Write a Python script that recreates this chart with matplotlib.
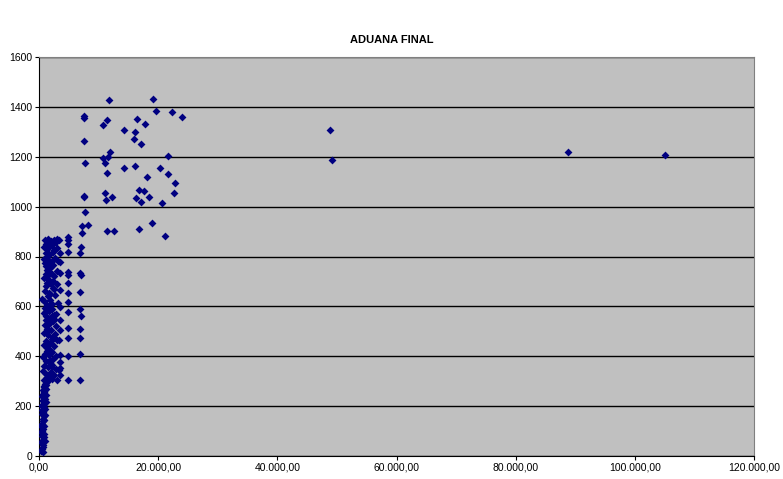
import matplotlib.pyplot as plt
from matplotlib.ticker import FuncFormatter

# --- data (x: valor, y: días) ---
base_x = [350, 500, 700, 400, 650, 550, 800, 450, 700, 900, 500, 750, 600, 850, 500,
          700, 950, 550, 800, 650, 1000, 500, 750, 900, 600, 1100, 800, 1200, 950, 1300,
          650, 850, 550, 900, 450, 700, 1100, 350, 1000, 600, 800, 1050, 500, 900, 1400,
          400, 750, 1150, 600, 850]
base_y = [20, 30, 45, 55, 65, 80, 90, 100, 110, 120, 130, 140, 150, 160, 170,
          180, 190, 200, 210, 220, 230, 240, 250, 255, 265, 270, 280, 285, 290, 295,
          35, 75, 115, 145, 185, 225, 245, 95, 60, 15, 195, 165, 205, 275, 300,
          125, 235, 215, 175, 260]

cluster_x = [1000, 1500, 2000, 2500, 1200, 1800, 2800, 3100,
             900, 1400, 2100, 2600, 1100, 1700, 2300, 3000, 1300,
             800, 1500, 2000, 2700, 1200, 1800, 2400, 3200, 1000,
             1300, 1900, 2500, 900, 1600, 2200, 3000, 1100,
             1400, 2000, 2600, 1000, 1700, 2300, 3100, 1200,
             500, 900, 1500, 2100, 2700, 1300, 1800, 3200,
             1000, 1600, 2200, 2800, 1200, 1900, 2500, 800,
             1100, 1700, 2300, 2900, 1400, 2000, 1000, 2600,
             900, 1500, 2100, 2700, 1200, 1800, 2400, 3100,
             800, 1300, 1900, 2500, 1000, 1600, 2200, 2900,
             700, 1200, 1800, 2400, 900, 1500, 2100, 2800, 3300,
             600, 1100, 1600, 2200, 800, 1400, 2000, 2600, 3000,
             1600, 2200, 1400, 1900, 1700, 2100, 1500, 2300, 1300, 1800,
             1700, 2400, 1500, 2000, 1900, 1600, 1200, 2200]
cluster_y = [865, 870, 862, 868, 850, 855, 858, 870,
             840, 832, 845, 825, 815, 808, 820, 835, 800,
             790, 785, 770, 795, 760, 752, 765, 780, 775,
             745, 735, 720, 712, 705, 728, 740, 730,
             695, 688, 670, 660, 655, 675, 690, 680,
             630, 620, 640, 610, 645, 605, 625, 615,
             595, 580, 590, 570, 560, 555, 565, 575,
             545, 530, 540, 520, 510, 505, 525, 550,
             495, 485, 470, 490, 460, 455, 478, 465,
             445, 432, 425, 440, 410, 405, 418, 400,
             395, 380, 372, 390, 360, 355, 365, 350, 345,
             340, 330, 320, 310, 305, 315, 335, 325, 305,
             840, 780, 720, 650, 600, 560, 500, 470, 420, 385,
             810, 700, 740, 610, 540, 450, 580, 355]

col35_x = [3400, 3500, 3450, 3550, 3500, 3450, 3500, 3550, 3400, 3500, 3450, 3500, 3550]
col35_y = [866, 814, 779, 733, 666, 599, 545, 505, 465, 405, 378, 352, 325]

col49_x = [4900, 4950, 4850, 4900, 4950, 4900, 4850, 4950, 4900, 4900, 4850, 4950, 4900, 4900]
col49_y = [879, 866, 850, 819, 739, 726, 692, 652, 619, 579, 512, 472, 401, 305]

col70_x = [7000, 6950, 6900, 7000, 6950, 6900, 7000, 6950, 6900, 6950, 6950]
col70_y = [839, 814, 733, 726, 659, 589, 561, 509, 473, 409, 305]

upper_x = [11800, 19200, 19700, 22300, 24000, 7550, 7550, 11400, 10800, 16400,
           17800, 14300, 16100, 15900, 17200, 7600, 11900, 10700, 11600, 11100,
           21700, 7700, 11400, 14300, 16100, 20300, 21700, 18100, 22900, 22700,
           16800, 17600, 16300, 17100, 18500, 20600, 11100, 11200, 12200, 7550,
           7550, 7700, 7300, 7300, 8300, 11400, 12600, 16800, 18900, 21100]
upper_y = [1427, 1430, 1385, 1379, 1360, 1355, 1365, 1347, 1326, 1350,
           1331, 1307, 1299, 1272, 1251, 1264, 1219, 1194, 1198, 1174,
           1204, 1176, 1133, 1156, 1163, 1156, 1129, 1120, 1096, 1056,
           1067, 1063, 1036, 1019, 1039, 1013, 1053, 1025, 1040, 1040,
           1044, 977, 922, 895, 926, 902, 902, 910, 933, 882]

far_x = [48900, 49100, 88800, 105000]
far_y = [1306, 1188, 1218, 1207]

x_ticks = [0, 20000, 40000, 60000, 80000, 100000, 120000]
y_ticks = [0, 200, 400, 600, 800, 1000, 1200, 1400, 1600]


def fmt_es(v, _pos=None):
    s = f"{v:,.2f}"
    return s.replace(",", "X").replace(".", ",").replace("X", ".")


plt.rcParams["font.family"] = ["Liberation Sans", "DejaVu Sans"]

fig = plt.figure(figsize=(7.83, 4.79), dpi=100)
ax = fig.add_axes([39 / 783, 23 / 479, 715 / 783, 399 / 479])
ax.set_facecolor("#C0C0C0")

xs = base_x + cluster_x + col35_x + col49_x + col70_x + upper_x + far_x
ys = base_y + cluster_y + col35_y + col49_y + col70_y + upper_y + far_y
ax.scatter(xs, ys, marker="D", s=16, color="#000080", linewidths=0, zorder=3)

ax.set_xlim(0, 120000)
ax.set_ylim(0, 1600)
ax.set_xticks(x_ticks)
ax.set_yticks(y_ticks)
ax.xaxis.set_major_formatter(FuncFormatter(fmt_es))
ax.tick_params(labelsize=7.5, length=3, color="black", pad=2)
ax.grid(axis="y", color="black", linewidth=1, zorder=1)
ax.set_axisbelow(True)
for side in ("top", "right"):
    ax.spines[side].set_color("#808080")
for side in ("left", "bottom"):
    ax.spines[side].set_color("black")

fig.text(0.5, 1 - 40 / 479, "ADUANA FINAL", ha="center", va="center",
         fontsize=8, fontweight="bold")

fig.savefig("out.png", dpi=100)
